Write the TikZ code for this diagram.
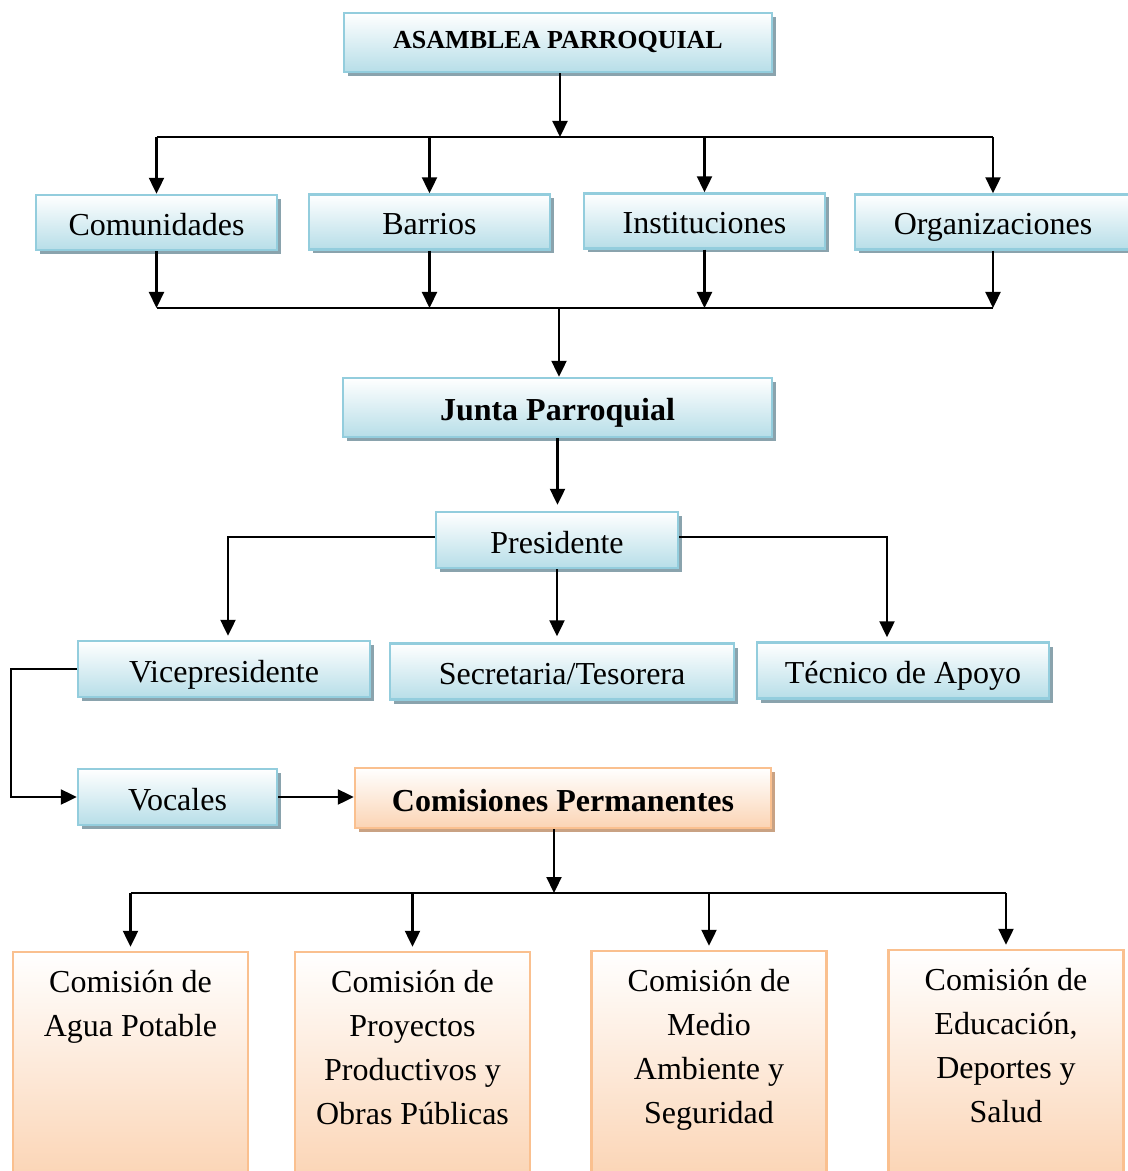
\documentclass[tikz,border=0pt]{standalone}
\usepackage{fontspec}
\setmainfont{Liberation Serif}
\usetikzlibrary{arrows.meta,shadows}
\definecolor{aqualine}{HTML}{93CDDD}
\definecolor{aquafill}{HTML}{B7DEE8}
\definecolor{aquashadow}{HTML}{8AA3AD}
\definecolor{peachline}{HTML}{FAC08F}
\definecolor{peachfill}{HTML}{FBD4B4}
\definecolor{peachshadow}{HTML}{C9A283}
\newcommand{\comtext}[1]{\parbox[c][115pt][t]{117.5pt}{\centering\rule{0pt}{20pt}#1}}

\begin{document}
\begin{tikzpicture}[x=0.5pt,y=-0.5pt,
        >={Triangle[width=7.5pt,length=8pt]},
        arr/.style={->,line width=1.1pt},
        bus/.style={line width=1.1pt},
        basebox/.style={line width=1.2pt,top color=white,inner sep=0pt,
                        font=\fontsize{16}{22}\selectfont,align=center},
        unit/.style={basebox,draw=aqualine,bottom color=aquafill,
                     text height=13pt,text depth=0pt,
                     drop shadow={shadow xshift=2pt,shadow yshift=-2pt,
                                  fill=aquashadow,opacity=1}},
        comis/.style={basebox,draw=peachline,bottom color=peachfill,
                      text height=13pt,text depth=0pt,
                      drop shadow={shadow xshift=2pt,shadow yshift=-2pt,
                                   fill=peachshadow,opacity=1}},
        combox/.style={basebox,draw=peachline,bottom color=peachfill}
      ]
        \useasboundingbox (0,0) rectangle (1128,1171);
        \clip (0,0) rectangle (1128,1171);

        \node[unit,minimum width=214pt,minimum height=29.5pt,text height=9pt,text depth=2.5pt,
              font=\fontsize{13}{15}\selectfont\bfseries] (asam) at (558,42.5) {ASAMBLEA PARROQUIAL};

        \node[unit,minimum width=120.5pt,minimum height=27.5pt] (com) at (156.5,222.5) {Comunidades};
        \node[unit,minimum width=120.5pt,minimum height=27.5pt] (bar) at (429.5,222) {Barrios};
        \node[unit,minimum width=120.5pt,minimum height=27.5pt] (ins) at (704.5,221) {Instituciones};
        \node[unit,minimum width=138pt,minimum height=27.5pt] (org) at (993,222) {Organizaciones};

        \node[unit,minimum width=214.5pt,minimum height=29.5pt,font=\fontsize{16}{19}\selectfont\bfseries]
              (junta) at (557.5,407.5) {Junta Parroquial};
        \node[unit,minimum width=121pt,minimum height=28pt] (pres) at (557,540) {Presidente};

        \node[unit,minimum width=146pt,minimum height=28pt] (vice) at (224,669) {Vicepresidente};
        \node[unit,minimum width=172pt,minimum height=28pt] (sec) at (562,671.5) {Secretaria/Tesorera};
        \node[unit,minimum width=146pt,minimum height=28pt] (tec) at (903,670.5) {Técnico de Apoyo};

        \node[unit,minimum width=99.5pt,minimum height=28pt] (voc) at (177.5,797) {Vocales};
        \node[comis,minimum width=208pt,minimum height=30pt,font=\fontsize{16}{19}\selectfont\bfseries]
              (comp) at (563,798) {Comisiones Permanentes};

        \node[combox] (agua) at (130.5,1067) {\comtext{Comisión de\\Agua Potable}};
        \node[combox] (proy) at (412.5,1067) {\comtext{Comisión de\\Proyectos\\Productivos y\\Obras Públicas}};
        \node[combox] (med) at (709,1066) {\comtext{Comisión de\\Medio\\Ambiente y\\Seguridad}};
        \node[combox] (edu) at (1006,1065) {\comtext{Comisión de\\Educación,\\Deportes y\\Salud}};

        \coordinate (busA) at (560,137);
        \coordinate (busB) at (559,308);
        \coordinate (busC) at (554,893);

        \draw[arr] (asam.south -| busA) -- (busA);
        \draw[bus] (com.north |- busA) -- (org.north |- busA);
        \draw[bus] (com.south |- busB) -- (org.south |- busB);
        \foreach \n in {com,bar,ins,org}{
          \draw[arr] (\n.north |- busA) -- (\n.north);
          \draw[arr] (\n.south) -- (\n.south |- busB);
        }
        \draw[arr] (busB) -- (junta.north -| busB);
        \draw[arr] (junta.south) -- ([yshift=3pt]junta.south |- pres.north);

        \draw[arr] ([yshift=1.5pt]pres.west) -| ([xshift=2pt,yshift=2pt]vice.north);
        \draw[arr] ([yshift=1.5pt]pres.east) -| ([xshift=-8pt,yshift=2pt]tec.north);
        \draw[arr] (pres.south) -- ([yshift=3pt]pres.south |- sec.north);

        \draw[arr] (vice.west) -- ++(-66,0) |- (voc.west);
        \draw[arr] (voc.east) -- (voc.east -| comp.west);

        \draw[arr] (comp.south -| busC) -- (busC);
        \draw[bus] (agua.north |- busC) -- (edu.north |- busC);
        \foreach \n in {agua,proy,med,edu}
          \draw[arr] (\n.north |- busC) -- ([yshift=2pt]\n.north);
      \end{tikzpicture}
\end{document}
